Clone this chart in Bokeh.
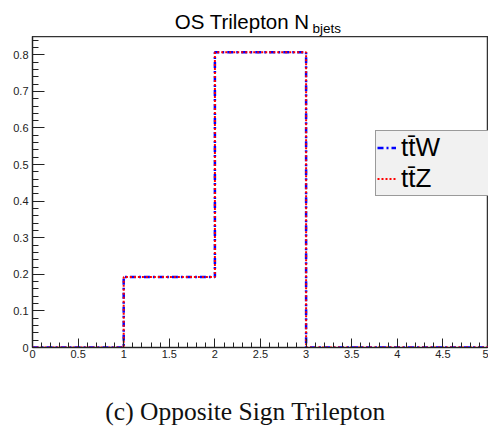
from bokeh.plotting import figure
from bokeh.layouts import column
from bokeh.models import (Range1d, FixedTicker, CustomJSTickFormatter, Label,
                          Legend, LegendItem)
from bokeh.embed import file_html
from bokeh.resources import INLINE

# Number of b-jets, unit-width bins from 0 to 5
bin_edges = [0, 1, 2, 3, 4, 5]
ttW_frac = [0.0, 0.193, 0.807, 0.0, 0.0]
ttZ_frac = [0.0, 0.193, 0.807, 0.0, 0.0]

x_major = [0, 0.5, 1, 1.5, 2, 2.5, 3, 3.5, 4, 4.5, 5]
x_minor = [i / 10 for i in range(51)]
y_major = [0, 0.1, 0.2, 0.3, 0.4, 0.5, 0.6, 0.7, 0.8]
y_minor = [i / 50 for i in range(43)]

W = 488
TITLE_H, MAIN_H, CAP_H = 36, 334, 61


def text_strip(height):
    """A bare figure used only to hold free-floating text."""
    f = figure(width=W, height=height, output_backend="svg",
               toolbar_location=None, x_axis_type=None, y_axis_type=None,
               x_range=Range1d(0, 1), y_range=Range1d(0, 1),
               min_border=0)
    f.grid.visible = False
    f.outline_line_color = None
    f.background_fill_color = "white"
    f.border_fill_color = "white"
    return f


# ---- title: "OS Trilepton N" with subscript "bjets"
top = text_strip(TITLE_H)
top.add_layout(Label(x=309, y=21, x_units="canvas", y_units="canvas",
                     text="OS Trilepton N", text_font="Liberation Sans",
                     text_font_size="20.5px", text_align="right",
                     text_baseline="alphabetic", text_color="black"))
top.add_layout(Label(x=312, y=28, x_units="canvas", y_units="canvas",
                     text="bjets", text_font="Liberation Sans",
                     text_font_size="13.5px", text_align="left",
                     text_baseline="alphabetic", text_color="black"))

# ---- histogram
p = figure(width=W, height=MAIN_H, output_backend="svg", toolbar_location=None,
           x_range=Range1d(0, 5), y_range=Range1d(0, 0.85),
           min_border_left=32, min_border_right=0, min_border_top=0,
           min_border_bottom=23)
p.grid.visible = False
p.outline_line_color = "#333333"
p.outline_line_width = 1.5
p.background_fill_color = "white"
p.border_fill_color = "white"

fmt = CustomJSTickFormatter(code="return String(Number(tick.toFixed(2)));")
for ax, maj, mino, tin, tmin in ((p.xaxis[0], x_major, x_minor, 9, 5),
                                 (p.yaxis[0], y_major, y_minor, 12, 6)):
    ax.ticker = FixedTicker(ticks=maj, minor_ticks=mino)
    ax.formatter = fmt
    ax.major_tick_in = tin
    ax.major_tick_out = 0
    ax.minor_tick_in = tmin
    ax.minor_tick_out = 0
    ax.axis_line_color = "#222222"
    ax.major_tick_line_color = "#222222"
    ax.minor_tick_line_color = "#222222"
    ax.major_label_text_font = "Liberation Sans"
    ax.major_label_text_font_size = "11px"
    ax.major_label_text_color = "#222222"
p.xaxis.major_label_standoff = 2
p.yaxis.major_label_standoff = 4

# step outlines built from the bin edges
xs = bin_edges
ys_w = ttW_frac + [ttW_frac[-1]]
ys_z = ttZ_frac + [ttZ_frac[-1]]
r_w = p.step(xs, ys_w, mode="after", line_color="blue", line_width=2.5,
             line_dash="6 3 2 3")
r_z = p.step(xs, ys_z, mode="after", line_color="red", line_width=2,
             line_dash="2 2")

legend = Legend(items=[LegendItem(label="tt\u0304W", renderers=[r_w]),
                       LegendItem(label="tt\u0304Z", renderers=[r_z])],
                location=(343, 151), orientation="vertical",
                background_fill_color="#f1f1f1", background_fill_alpha=1,
                border_line_color="#444444", border_line_width=1.5,
                label_text_font="Liberation Sans", label_text_font_size="26px",
                label_text_color="black",
                glyph_width=19, glyph_height=25, label_height=25,
                label_width=110, label_standoff=5,
                padding=1, spacing=0, margin=0)
p.add_layout(legend, "center")

# ---- caption
cap = text_strip(CAP_H)
cap.add_layout(Label(x=245, y=41, x_units="canvas", y_units="canvas",
                     text="(c) Opposite Sign Trilepton",
                     text_font="Liberation Serif", text_font_size="25.5px",
                     text_align="center", text_baseline="alphabetic",
                     text_color="#111111"))

layout = column(top, p, cap, spacing=0)
open("out.html", "w").write(file_html(layout, INLINE))
